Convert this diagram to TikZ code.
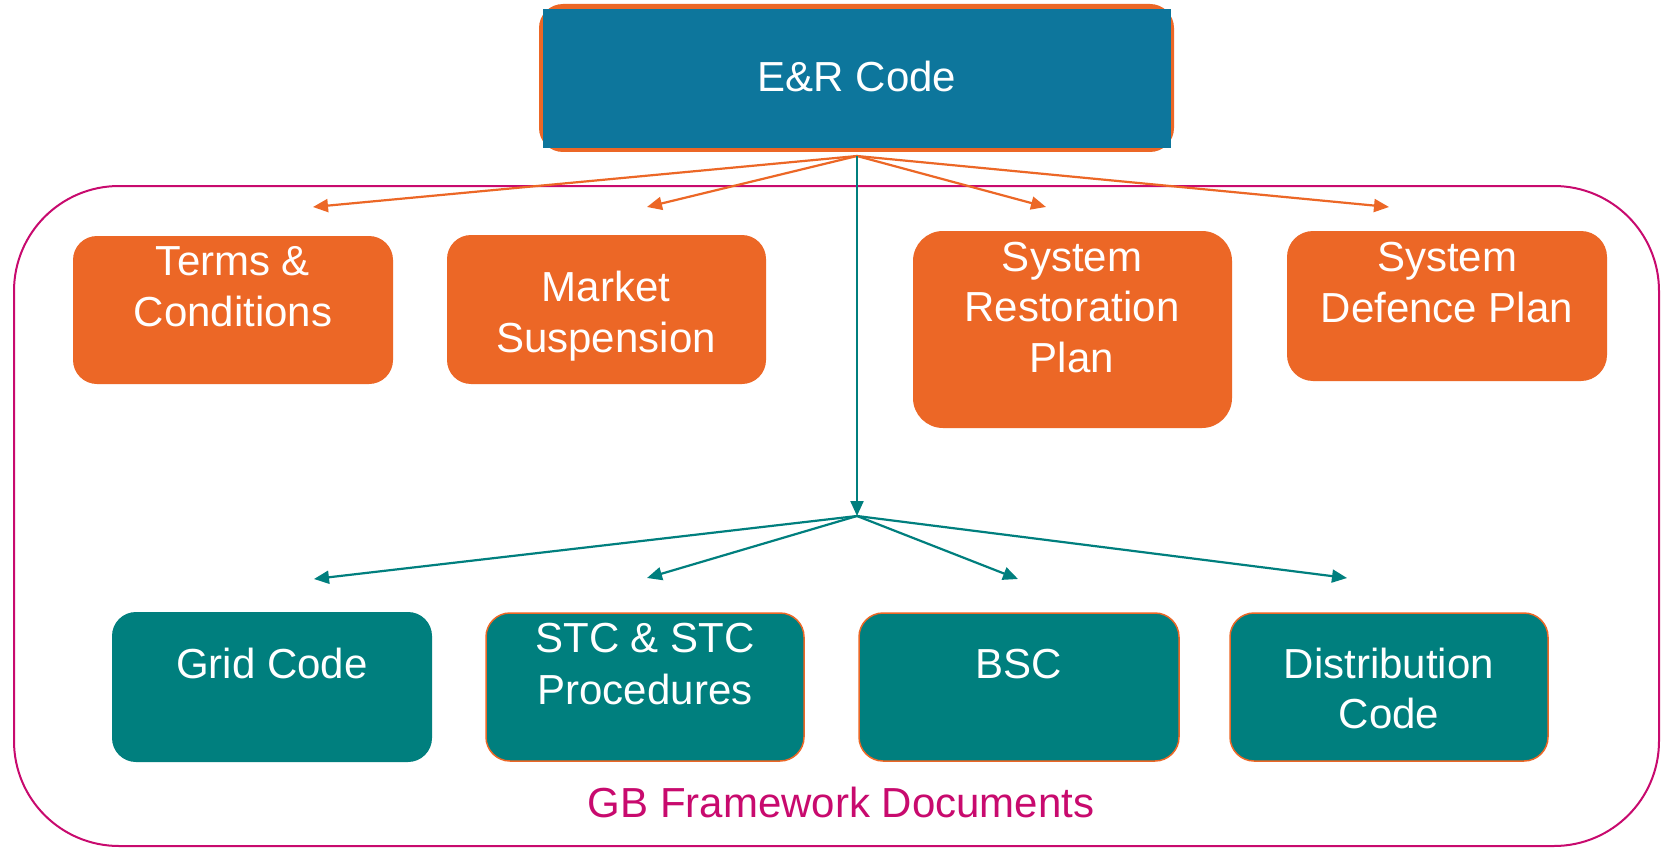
\documentclass[tikz,border=0pt]{standalone}
\usepackage{fontspec}
\setmainfont{Liberation Sans}
\usetikzlibrary{arrows.meta}
\definecolor{cOrange}{HTML}{EC6726}
\definecolor{cBlue}{HTML}{0D769C}
\definecolor{cTeal}{HTML}{007F7E}
\definecolor{cMag}{HTML}{C80A6E}
\begin{document}
\begin{tikzpicture}[x=1pt,y=-1pt,
  lbl/.style={anchor=base,inner sep=0pt,text=white,font=\fontsize{42}{51}\selectfont},
  obox/.style={fill=cOrange,draw=none,rounded corners=24pt},
  tbox/.style={fill=cTeal,draw=cOrange,line width=1.5pt,rounded corners=24pt},
  oarrow/.style={draw=cOrange,line width=2.2pt,-{Triangle[length=15pt,width=13pt]}},
  tarrow/.style={draw=cTeal,line width=2.2pt,-{Triangle[length=15pt,width=13pt]}}]
\useasboundingbox (0,0) rectangle (1663,848);
\fill[white] (0,0) rectangle (1663,848);
% frame
\draw[cMag,line width=2pt,rounded corners=105pt] (14,186) rectangle (1659,846);
\node[anchor=base,inner sep=0pt,text=cMag,font=\fontsize{42}{51}\selectfont] (gb) at (841,817) {GB Framework Documents};
% top box
\fill[cOrange,rounded corners=24pt] (539,4) rectangle (1174,152);
\fill[cBlue] (543,9) rectangle (1171,148);
\node[lbl] (er) at (857,92) {E\&R Code};
% orange boxes
\fill[obox] (73,236) rectangle (393,384);
\node[lbl] (tc1) at (233,275) {Terms \&};
\node[lbl] (tc2) at (233,326) {Conditions};
\fill[obox] (447,235) rectangle (766,384);
\node[lbl] (ms1) at (606,301) {Market};
\node[lbl] (ms2) at (606,352) {Suspension};
\fill[obox,rounded corners=30pt] (913,231) rectangle (1232,428);
\node[lbl] (sr1) at (1072,271) {System};
\node[lbl] (sr2) at (1072,321) {Restoration};
\node[lbl] (sr3) at (1072,372) {Plan};
\fill[obox,rounded corners=26pt] (1287,231) rectangle (1607,381);
\node[lbl] (sd1) at (1447,271) {System};
\node[lbl] (sd2) at (1447,322) {Defence Plan};
% teal boxes
\fill[cTeal,rounded corners=24pt] (112,612) rectangle (432,762);
\node[lbl] (gc) at (272,678) {Grid Code};
\draw[tbox] (486,613) rectangle (804,761);
\node[lbl] (st1) at (645,652) {STC \& STC};
\node[lbl] (st2) at (645,704) {Procedures};
\draw[tbox] (859,613) rectangle (1179,761);
\node[lbl] (bsc) at (1019,678) {BSC};
\draw[tbox] (1230,613) rectangle (1548,761);
\node[lbl] (dc1) at (1389,678) {Distribution};
\node[lbl] (dc2) at (1389,728) {Code};
% hubs and arrow tips
\coordinate (hub1) at (857,156);
\coordinate (hub2) at (857,516);
\coordinate (o1) at (313,207);
\coordinate (o2) at (647,207);
\coordinate (o3) at (1046,207);
\coordinate (o4) at (1389,207);
\coordinate (t1) at (314,579);
\coordinate (t2) at (647,578);
\coordinate (t3) at (1018,579);
\coordinate (t4) at (1347,578);
\draw[oarrow] (hub1) -- (o1);
\draw[oarrow] (hub1) -- (o2);
\draw[oarrow] (hub1) -- (o3);
\draw[oarrow] (hub1) -- (o4);
\draw[tarrow] (hub1) -- (hub2);
\draw[tarrow] (hub2) -- (t1);
\draw[tarrow] (hub2) -- (t2);
\draw[tarrow] (hub2) -- (t3);
\draw[tarrow] (hub2) -- (t4);
\end{tikzpicture}
\end{document}
